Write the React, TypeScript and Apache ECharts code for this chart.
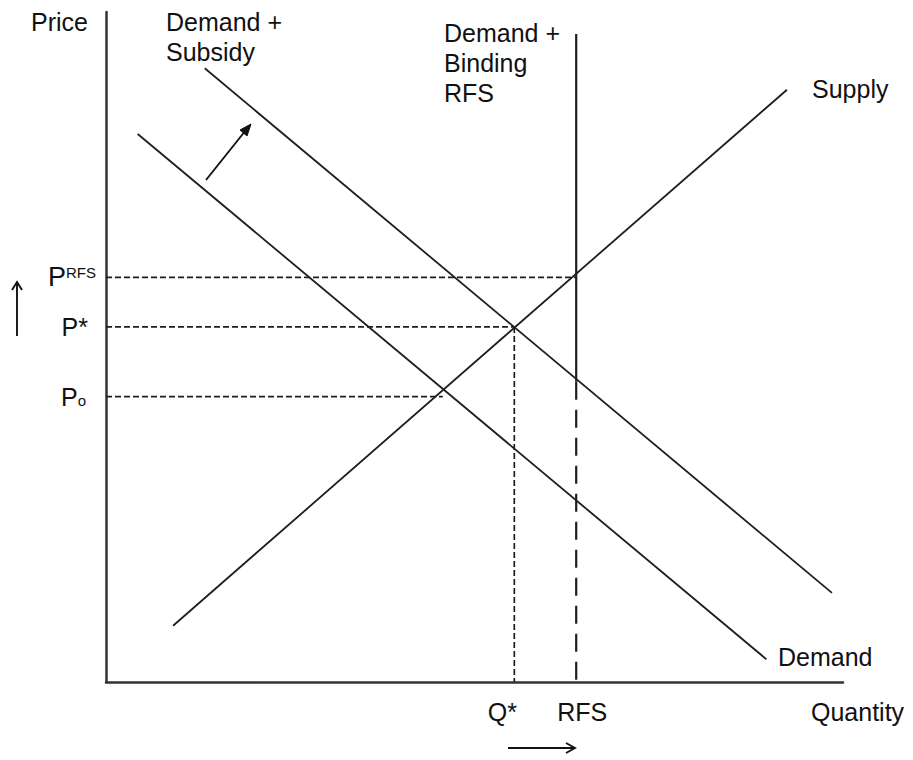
import React, { useEffect, useRef } from "react";
import * as echarts from "echarts";

// Curves (quantity, price) in chart units 0..100
const supplyLine = [[9.1, 8.4], [92.4, 88.4]];
const demandLine = [[4.3, 81.8], [89.6, 3.4]];
const demandSubsidyLine = [[13.4, 91.6], [98.5, 13.3]];

// Key values
const qStar = 55.4;
const qRFS = 63.8;
const q0 = 45.7;
const pRFS = 60.4;
const pStar = 53.0;
const p0 = 42.6;
const rfsTop = 96.7;
const rfsSolidBottom = 44.8;

const FONT = "'Liberation Sans', Arial, sans-serif";
const INK = "#111";
const LINE = "#1e1e1e";
const FS = 25;

export default function App() {
  const ref = useRef<HTMLDivElement>(null);
  useEffect(() => {
    if (!ref.current) return;
    const chart = echarts.init(ref.current, undefined, { renderer: "svg" });

    const solid = (data: number[][], width = 1.8) => ({
      type: "line",
      data,
      showSymbol: false,
      symbol: "none",
      silent: true,
      clip: false,
      lineStyle: { color: LINE, width },
    });
    const dashed = (data: number[][], dash: number[], width = 1.7) => ({
      type: "line",
      data,
      showSymbol: false,
      symbol: "none",
      silent: true,
      clip: false,
      lineStyle: { color: LINE, width, type: dash },
    });

    const tickLabel = (
      pt: number[],
      text: string,
      position: string,
      distance: number,
      offset: number[] = [0, 0]
    ) => ({
      type: "scatter",
      data: [pt],
      symbolSize: 0,
      silent: true,
      clip: false,
      itemStyle: { opacity: 1 },
      label: {
        show: true,
        position,
        distance,
        offset,
        formatter: text,
        color: INK,
        opacity: 1,
        fontFamily: FONT,
        fontSize: FS,
        rich: {
          p: { fontSize: FS, color: INK, fontFamily: FONT },
          pb: { fontSize: 27, color: INK, fontFamily: FONT },
          sup: { fontSize: 15, color: INK, fontFamily: FONT, padding: [0, 0, 9, 0] },
          sub: { fontSize: 15, color: INK, fontFamily: FONT, padding: [8, 0, 0, 0] },
        },
      },
    });

    const txt = (x: number, y: number, text: string, align = "left", vAlign = "top") => ({
      type: "text",
      x,
      y,
      silent: true,
      style: {
        text,
        fill: INK,
        fontSize: FS,
        fontFamily: FONT,
        lineHeight: 30,
        align,
        verticalAlign: vAlign,
      },
    });
    const seg = (x1: number, y1: number, x2: number, y2: number, w = 1.9) => ({
      type: "line",
      silent: true,
      shape: { x1, y1, x2, y2 },
      style: { stroke: "#111", lineWidth: w },
    });
    const head = (pts: number[][], fill = false) => ({
      type: fill ? "polygon" : "polyline",
      silent: true,
      shape: { points: pts },
      style: fill ? { fill: "#111", stroke: "#111", lineWidth: 1 } : { stroke: "#111", lineWidth: 1.9, fill: "none" },
    });

    chart.setOption({
      animation: false,
      grid: { left: 106, top: 12, right: 70, bottom: 78 },
      xAxis: {
        type: "value",
        min: 0,
        max: 100,
        axisLine: { show: true, lineStyle: { color: "#333", width: 2.5 } },
        axisTick: { show: false },
        axisLabel: { show: false },
        splitLine: { show: false },
      },
      yAxis: {
        type: "value",
        min: 0,
        max: 100,
        axisLine: { show: true, lineStyle: { color: "#333", width: 2.5 } },
        axisTick: { show: false },
        axisLabel: { show: false },
        splitLine: { show: false },
      },
      series: [
        solid(supplyLine),
        solid(demandLine),
        solid(demandSubsidyLine),
        solid([[qRFS, rfsTop], [qRFS, rfsSolidBottom]], 2.2),
        dashed([[qRFS, rfsSolidBottom], [qRFS, 0]], [18, 10], 2.2),
        dashed([[0, pRFS], [qRFS, pRFS]], [6, 3]),
        dashed([[0, pStar], [qStar, pStar]], [6, 3]),
        dashed([[qStar, pStar], [qStar, 0]], [6, 3]),
        dashed([[0, p0], [q0, p0]], [6, 3]),
        tickLabel([0, pRFS], "{pb|P}{sup|RFS}", "left", 10),
        tickLabel([0, pStar], "{p|P*}", "left", 18),
        tickLabel([0, p0], "{p|P}{sub|o}", "left", 20),
        tickLabel([qStar, 0], "Q*", "bottom", 17, [-12, 0]),
        tickLabel([qRFS, 0], "RFS", "bottom", 17, [6, 0]),
      ],
      graphic: [
        txt(88, 22, "Price", "right", "middle"),
        txt(166, 7, "Demand +\nSubsidy"),
        txt(444, 18, "Demand +\nBinding\nRFS"),
        txt(812, 89, "Supply", "left", "middle"),
        txt(778, 657, "Demand", "left", "middle"),
        txt(811, 712, "Quantity", "left", "middle"),
        // up arrow (price rises)
        seg(17, 336, 17, 283),
        head([[12, 290], [17, 282], [22, 290]]),
        // right arrow (quantity rises)
        seg(508, 748, 574, 748),
        head([[566, 743], [575, 748], [566, 753]]),
        // diagonal shift arrow
        seg(206, 180, 246, 130),
        head([[251, 124], [240, 130], [247, 136]], true),
      ],
    });
    return () => chart.dispose();
  }, []);
  return (
    <div
      ref={ref}
      style={{ position: "absolute", left: 0, top: 0, width: 913, height: 760 }}
    />
  );
}
